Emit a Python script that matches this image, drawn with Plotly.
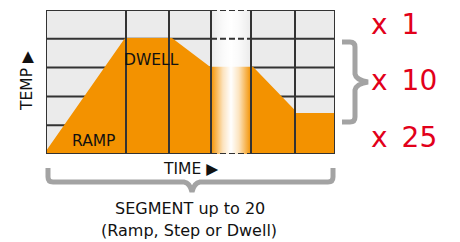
import plotly.graph_objects as go

# ---- data ----
time_edges = [0, 80, 123, 165, 205, 249, 289]        # vertical grid lines (time)
temp_levels = [0, 1, 2, 3, 4, 5]                     # horizontal grid lines (temp)
profile_time = [0, 79, 126, 164, 207, 249, 249, 289]
profile_temp = [0.1, 4.03, 4.03, 3.03, 3.03, 1.52, 1.42, 1.42]
gap_col = [165, 205]                                 # "up to 20" elided column
gap_temp = 3.03
multipliers = ["x\u20021", "x\u200210", "x\u200225"]

ORANGE = "#F39200"
GRID = "#333333"
BRACE = "#A3A3A3"
RED = "#E2001A"
FONT = "DejaVu Sans"

W, H = 460, 242
L, R, T, B = 46, 125, 10, 88
PW, PH = W - L - R, H - T - B


def px(x):
    return (x - L) / PW


def py(y):
    return (H - B - y) / PH


fig = go.Figure()

# orange temperature profile
fig.add_trace(go.Scatter(x=profile_time, y=profile_temp, mode="lines",
                         fill="tozeroy", fillcolor=ORANGE,
                         line=dict(width=0, color=ORANGE), hoverinfo="skip"))

# white fade over elided column
fig.add_trace(go.Scatter(
    x=[gap_col[0], gap_col[1], gap_col[1], gap_col[0], gap_col[0]],
    y=[temp_levels[0], temp_levels[0], temp_levels[-1], temp_levels[-1], temp_levels[0]],
    mode="lines", fill="toself", line=dict(width=0),
    fillgradient=dict(type="horizontal", colorscale=[
        [0.0, "rgba(255,255,255,0)"],
        [0.3, "rgba(255,255,255,0.75)"],
        [0.5, "rgba(255,255,255,1)"],
        [0.7, "rgba(255,255,255,0.75)"],
        [1.0, "rgba(255,255,255,0)"]]),
    hoverinfo="skip"))

shapes = []
xmin, xmax = time_edges[0], time_edges[-1]
for lv in temp_levels:
    frame = lv in (temp_levels[0], temp_levels[-1])
    layer = "above" if frame else "below"
    for a, b in [(xmin, gap_col[0]), (gap_col[1], xmax)]:
        shapes.append(dict(type="line", xref="x", yref="y", x0=a, x1=b, y0=lv, y1=lv,
                           layer=layer, line=dict(color=GRID, width=2)))
    if frame or lv > gap_temp:
        shapes.append(dict(type="line", xref="x", yref="y", x0=gap_col[0], x1=gap_col[1],
                           y0=lv, y1=lv, layer="above",
                           line=dict(color=GRID, width=2, dash="6px,3px")))
for t in time_edges:
    shapes.append(dict(type="line", xref="x", yref="y", x0=t, x1=t,
                       y0=temp_levels[0], y1=temp_levels[-1], layer="above",
                       line=dict(color=GRID, width=2)))


def path(cmds):
    out = []
    for c in cmds:
        if isinstance(c, str):
            out.append(c)
        else:
            out.append(f"{px(c[0]):.5f},{py(c[1]):.5f}")
    return " ".join(out)


right_brace = path(["M", (342, 42), "L", (350, 42), "Q", (355, 42), (355, 47),
                    "L", (355, 74), "Q", (356, 80), (368, 82),
                    "Q", (356, 84), (355, 90), "L", (355, 117),
                    "Q", (355, 122), (350, 122), "L", (342, 122)])
bottom_brace = path(["M", (48, 168), "L", (48, 177), "Q", (48, 182), (53, 182),
                     "L", (184, 182), "Q", (190, 183), (192, 192),
                     "Q", (194, 183), (200, 182), "L", (328, 182),
                     "Q", (333, 182), (333, 177), "L", (333, 168)])
for p in (right_brace, bottom_brace):
    shapes.append(dict(type="path", xref="paper", yref="paper", path=p,
                       line=dict(color=BRACE, width=5), layer="above"))

ann = []


def txt(text, x, y, size, color="#111111", angle=0, xanchor="center"):
    ann.append(dict(text=text, x=px(x), y=py(y), xref="paper", yref="paper",
                    showarrow=False, textangle=angle, xanchor=xanchor, yanchor="middle",
                    font=dict(family=FONT, size=size, color=color)))


txt("DWELL", 151, 60, 15.5)
txt("RAMP", 93, 141, 15.5)
txt("TEMP ▶", 27, 81, 15.5, angle=-90)
txt("TIME ▶", 190, 169, 15.5)
txt("SEGMENT up to 20", 190, 208, 16)
txt("(Ramp, Step or Dwell)", 189, 230, 16)
for label, y in zip(multipliers, [25, 80, 137]):
    txt(label, 369, y, 28, color=RED, xanchor="left")

fig.update_layout(
    width=W, height=H, margin=dict(l=L, r=R, t=T, b=B),
    paper_bgcolor="white", plot_bgcolor="#EBEBEB", showlegend=False,
    xaxis=dict(range=[xmin, xmax], visible=False, fixedrange=True),
    yaxis=dict(range=[temp_levels[0], temp_levels[-1]], visible=False, fixedrange=True),
    shapes=shapes, annotations=ann,
)
fig.write_html("out.html", config=dict(displayModeBar=False),
               post_script="document.body.style.margin='0';")
